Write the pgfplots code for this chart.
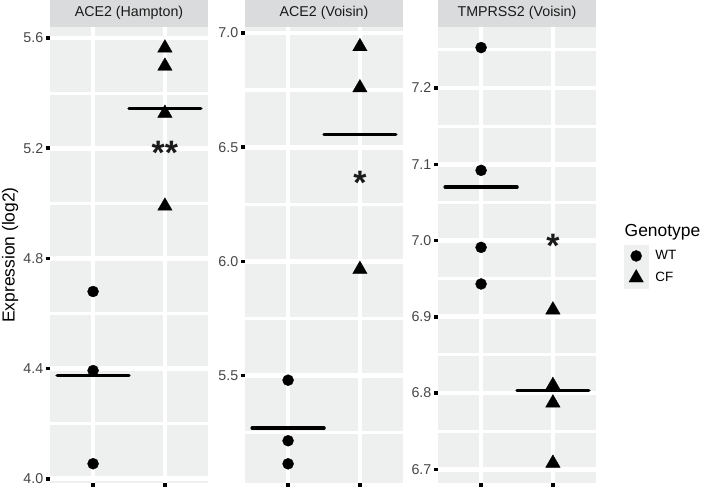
\documentclass[border=0pt]{standalone}
\usepackage{pgfplots}
\pgfplotsset{compat=1.18}
\usepackage{fontspec}
\setmainfont{Liberation Sans}
\definecolor{panelbg}{RGB}{238,239,239}
\definecolor{stripbg}{RGB}{218,219,220}
\definecolor{ticktext}{RGB}{70,70,70}
\definecolor{ink}{RGB}{26,26,26}
\tikzset{sigstar/.style={font=\bfseries\fontsize{34}{34}\selectfont, text=ink, anchor=base, yshift=-16.5bp}}
\pgfplotsset{
  every axis title shift=0pt,
  facet/.style={
    scale only axis, width=158bp, height=456bp,
    xmin=0.4, xmax=2.6,
    xtick={1,2}, xticklabels={},
    axis background/.style={fill=panelbg},
    axis line style={draw=none},
    tick pos=left, tick align=outside,
    major tick length=4bp, minor tick length=0pt,
    tick style={line width=3.5bp, black},
    grid=both,
    major grid style={white, line width=4.8bp},
    minor grid style={white, line width=3.2bp},
    yticklabel style={font=\fontsize{14.3}{16}\selectfont, text=ticktext, inner xsep=2.5bp},
    title style={at={(0.5,1)}, anchor=south, fill=stripbg, minimum width=158bp,
      minimum height=27bp, inner sep=0pt, text=ink, font=\fontsize{14.3}{16}\selectfont, yshift=0pt},
    clip=false,
  },
  wt/.style={only marks, mark=*, mark size=5.5bp, black, forget plot},
  cf/.style={only marks, mark=triangle*, mark size=8.3bp, black, forget plot},
  meanl/.style={line width=3.5bp, black, line cap=round, no marks, forget plot},
}
\begin{document}
\begin{tikzpicture}
% Panel 1
\begin{axis}[facet, at={(50bp,5bp)}, anchor=south west,
  ymin=3.985, ymax=5.64,
  ytick={4.0,4.4,4.8,5.2,5.6}, yticklabels={4.0,4.4,4.8,5.2,5.6},
  minor ytick={4.2,4.6,5.0,5.4},
  title={ACE2 (Hampton)},
  ylabel={Expression (log2)},
  ylabel style={at={(axis description cs:-0.253,0.5)}, anchor=center, inner sep=0pt, font=\fontsize{17.5}{20}\selectfont},
]
\addplot[wt] coordinates {(1,4.68) (1,4.393) (1,4.055)};
\addplot[cf] coordinates {(2,5.564) (2,5.498) (2,5.327) (2,4.99)};
\addplot[meanl] coordinates {(0.5,4.376) (1.5,4.376)};
\addplot[meanl] coordinates {(1.5,5.345) (2.5,5.345)};
\node[sigstar] at (axis cs:2,5.2) {**};
\end{axis}
% Panel 2
\begin{axis}[facet, at={(245bp,5bp)}, anchor=south west,
  ymin=5.03, ymax=7.026,
  ytick={5.5,6.0,6.5,7.0}, yticklabels={5.5,6.0,6.5,7.0},
  minor ytick={5.25,5.75,6.25,6.75},
  title={ACE2 (Voisin)},
]
\addplot[wt] coordinates {(1,5.48) (1,5.215) (1,5.114)};
\addplot[cf] coordinates {(2,6.94) (2,6.76) (2,5.965)};
\addplot[meanl] coordinates {(0.5,5.27) (1.5,5.27)};
\addplot[meanl] coordinates {(1.5,6.555) (2.5,6.555)};
\node[sigstar] at (axis cs:2,6.364) {*};
\end{axis}
% Panel 3
\begin{axis}[facet, at={(438bp,5bp)}, anchor=south west,
  ymin=6.682, ymax=7.28,
  ytick={6.7,6.8,6.9,7.0,7.1,7.2}, yticklabels={6.7,6.8,6.9,7.0,7.1,7.2},
  minor ytick={6.75,6.85,6.95,7.05,7.15,7.25},
  title={TMPRSS2 (Voisin)},
  legend style={at={(axis description cs:1.1772,0.5219)}, anchor=north west,
    draw=none, fill=none, inner sep=0pt, outer sep=0pt, row sep=0pt, column sep=7bp,
    font=\fontsize{13.5}{16}\selectfont, nodes={inner sep=0pt, anchor=west}},
  legend cell align=left,
  legend image code/.code={\fill[panelbg] (-12bp,-10.75bp) rectangle (12bp,10.75bp); \draw[#1] plot coordinates {(0bp,0bp)};},
]
\addplot[wt] coordinates {(1,7.253) (1,7.092) (1,6.991) (1,6.943)};
\addplot[cf] coordinates {(2,6.909) (2,6.81) (2,6.787) (2,6.708)};
\addplot[meanl] coordinates {(0.5,7.070) (1.5,7.070)};
\addplot[meanl] coordinates {(1.5,6.8035) (2.5,6.8035)};
\node[sigstar] at (axis cs:2,7.0) {*};
\addlegendimage{only marks, mark=*, mark size=5.5bp, black}
\addlegendentry{WT}
\addlegendimage{only marks, mark=triangle*, mark size=8.3bp, black}
\addlegendentry{CF}
\end{axis}
\node[anchor=base west, font=\fontsize{17.5}{20}\selectfont, inner sep=0pt] at (624.5bp,251bp) {Genotype};
\pgfresetboundingbox
\useasboundingbox (0,0) rectangle (708bp,488bp);
\end{tikzpicture}
\end{document}
